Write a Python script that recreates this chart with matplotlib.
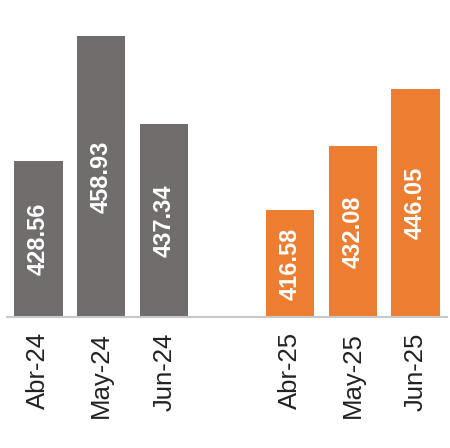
import matplotlib
matplotlib.use("Agg")
import matplotlib.pyplot as plt

categories = ["Abr-24", "May-24", "Jun-24", "Abr-25", "May-25", "Jun-25"]
values = [428.56, 458.93, 437.34, 416.58, 432.08, 446.05]
positions = [0, 1, 2, 4, 5, 6]
colors = ["#716d6d"] * 3 + ["#ED7D31"] * 3
base = 390.5

plt.rcParams['font.family'] = ['Liberation Sans', 'DejaVu Sans']
fig = plt.figure(figsize=(4.5, 4.48), dpi=100)
ax = fig.add_axes([7/450, 1 - 317/448, 440/450, 317/448])
heights = [v - base for v in values]
bars = ax.bar(positions, heights, bottom=base, width=0.77, color=colors)
ax.set_xlim(-0.5, 6.5)
ax.set_ylim(base, base + 317/4.11)
for p, v in zip(positions, values):
    ax.text(p, base + (v - base) / 2, f"{v:.2f}", rotation=90, ha='center', va='center',
            color='white', fontsize=17, fontweight='bold')
ax.set_xticks(positions)
ax.set_xticklabels(categories, rotation=90, fontsize=18.5, color='#222222')
ax.tick_params(axis='x', length=0, pad=11)
ax.set_yticks([])
for s in ['top', 'right', 'left']:
    ax.spines[s].set_visible(False)
ax.spines['bottom'].set_color('#c8c8c8')
ax.spines['bottom'].set_linewidth(1.5)
fig.savefig("out.png", dpi=100)
